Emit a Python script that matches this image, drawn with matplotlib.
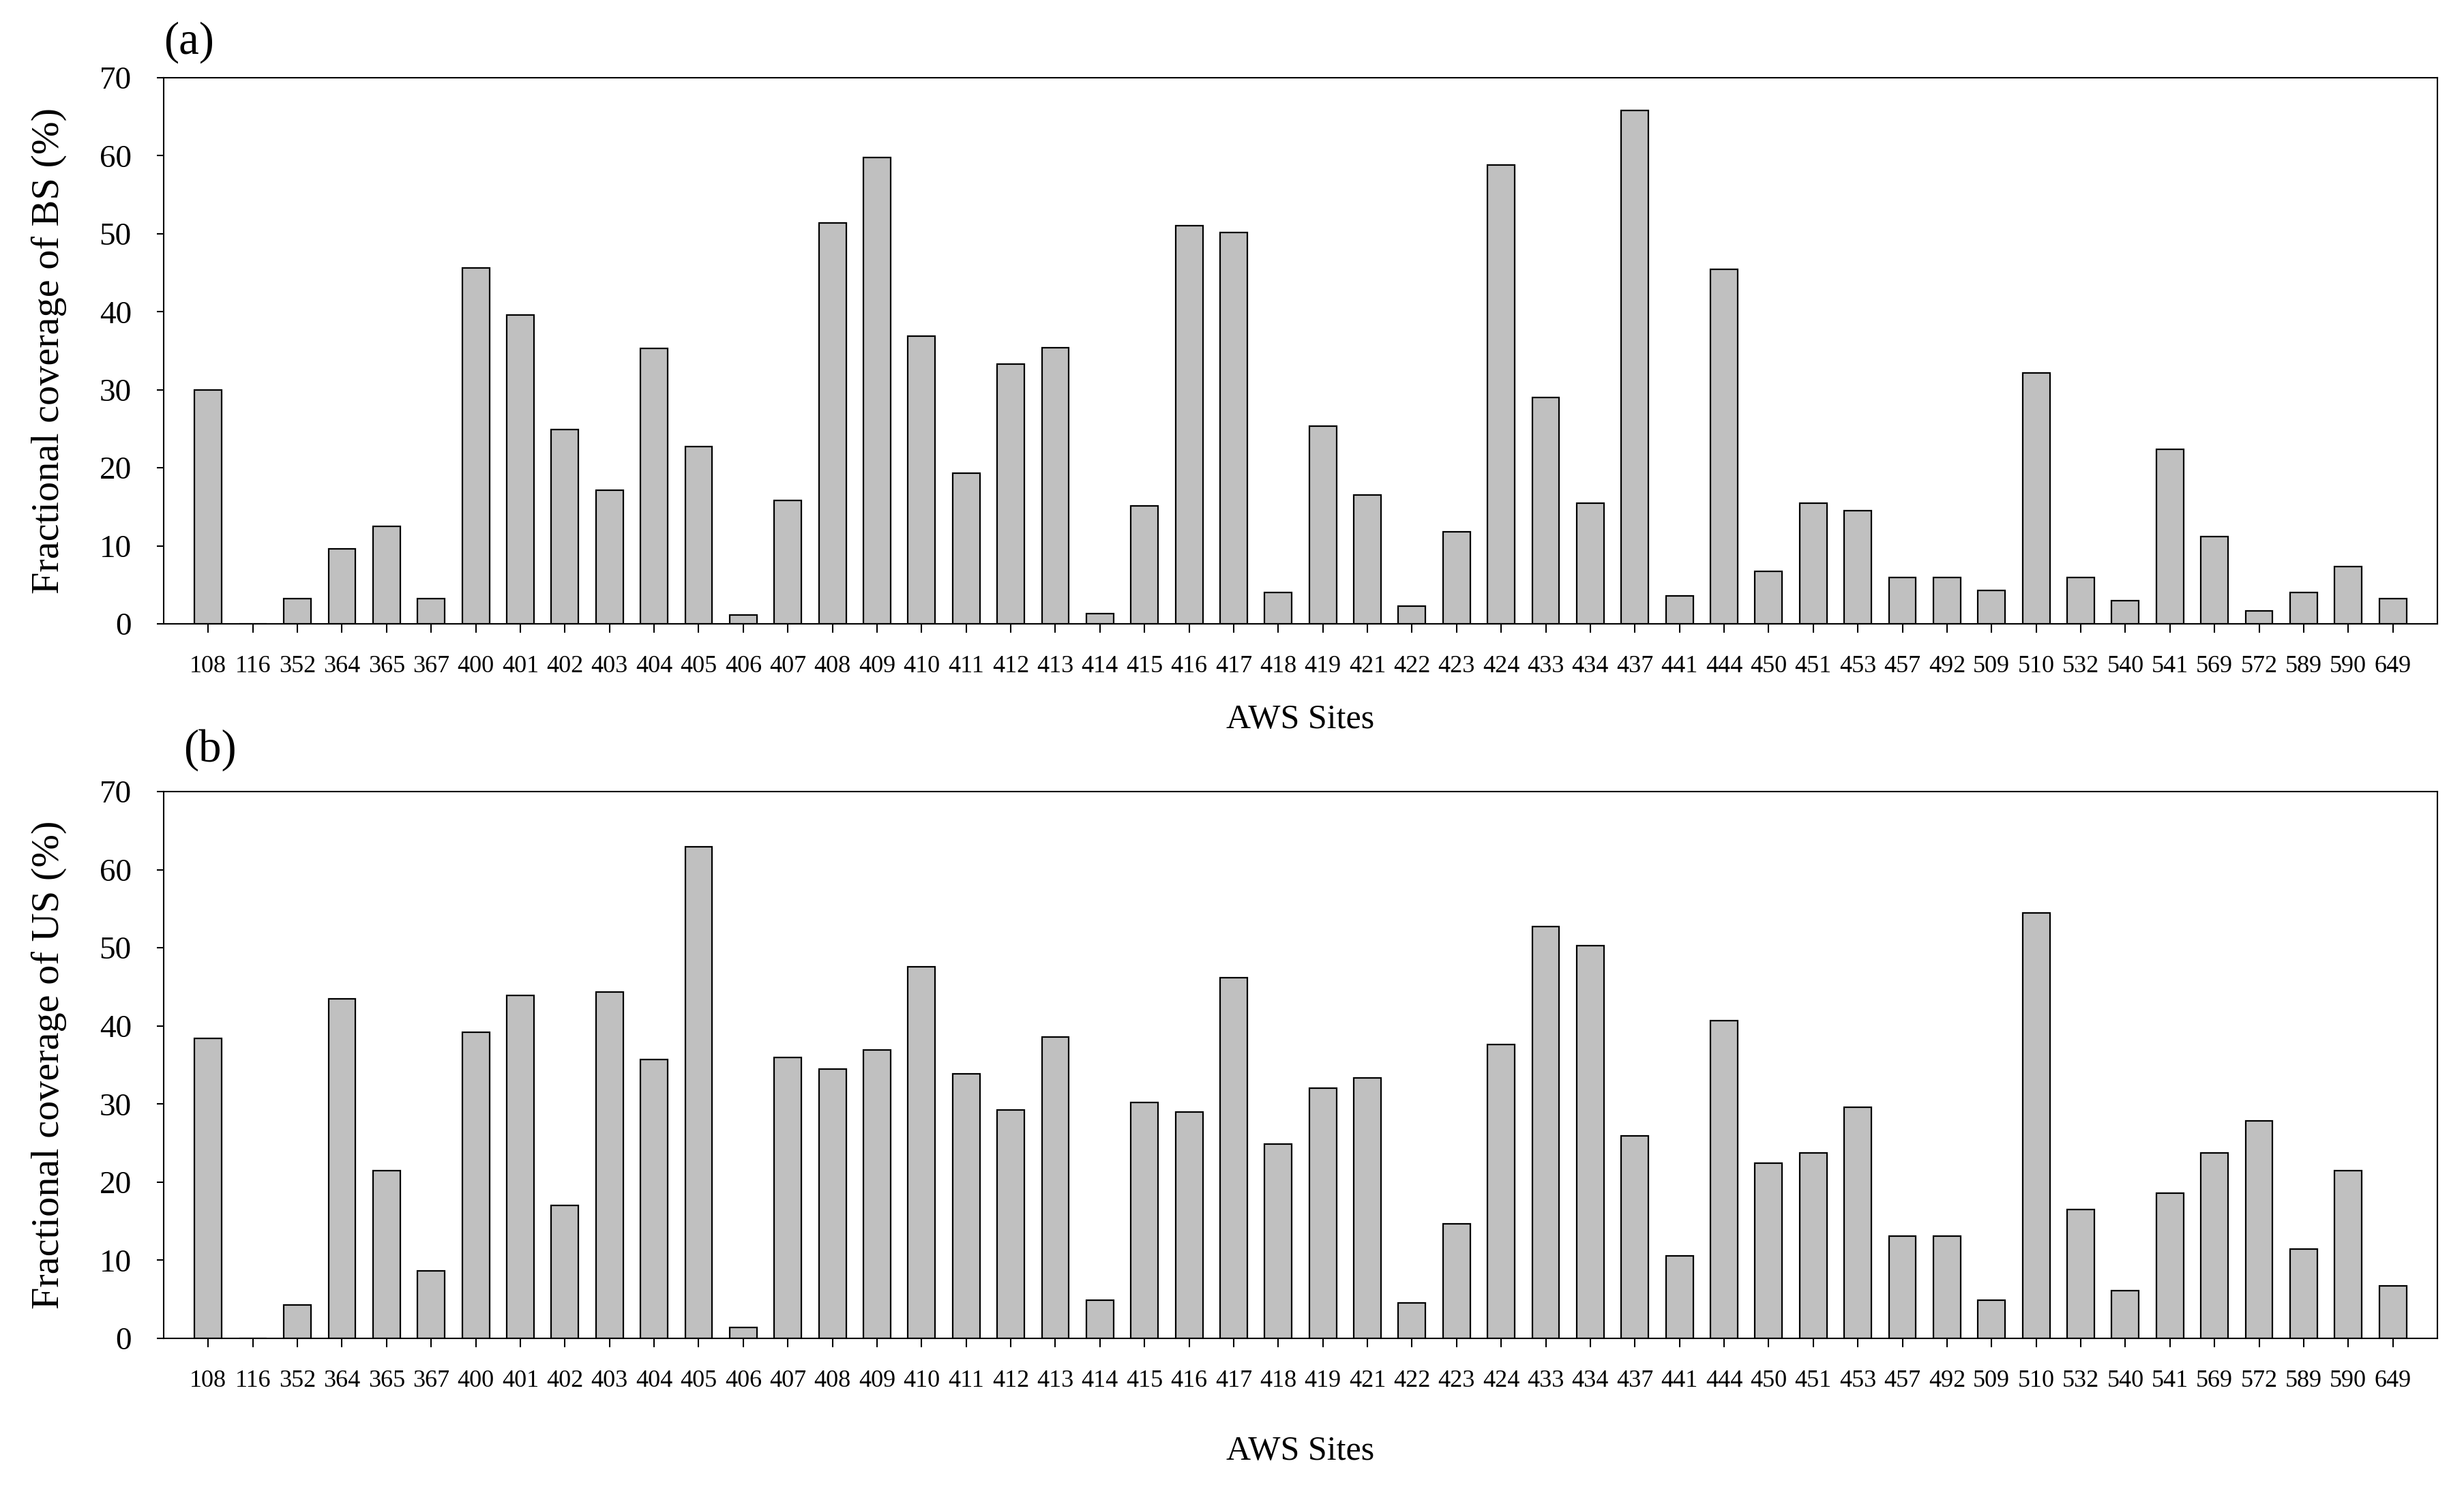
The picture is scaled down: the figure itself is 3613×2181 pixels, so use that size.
import matplotlib
matplotlib.use("Agg")
import matplotlib.pyplot as plt
import numpy as np

sites = ["108", "116", "352", "364", "365", "367", "400", "401", "402", "403",
         "404", "405", "406", "407", "408", "409", "410", "411", "412", "413",
         "414", "415", "416", "417", "418", "419", "421", "422", "423", "424",
         "433", "434", "437", "441", "444", "450", "451", "453", "457", "492",
         "509", "510", "532", "540", "541", "569", "572", "589", "590", "649"]

bs_cover = [30.0, 0.0, 3.2, 9.6, 12.5, 3.2, 45.6, 39.6, 24.9, 17.1,
            35.3, 22.7, 1.1, 15.8, 51.4, 59.8, 36.9, 19.3, 33.3, 35.4,
            1.3, 15.1, 51.0, 50.2, 4.0, 25.3, 16.5, 2.3, 11.8, 58.8,
            29.0, 15.5, 65.8, 3.6, 45.4, 6.7, 15.5, 14.5, 5.9, 5.9,
            4.3, 32.2, 5.9, 3.0, 22.4, 11.2, 1.7, 4.0, 7.3, 3.2]

us_cover = [38.4, 0.0, 4.3, 43.5, 21.5, 8.6, 39.2, 43.9, 17.0, 44.3,
            35.7, 62.9, 1.4, 36.0, 34.5, 36.9, 47.6, 33.9, 29.2, 38.6,
            4.9, 30.2, 29.0, 46.2, 24.9, 32.0, 33.3, 4.5, 14.7, 37.6,
            52.7, 50.3, 25.9, 10.6, 40.7, 22.4, 23.7, 29.6, 13.1, 13.1,
            4.9, 54.5, 16.5, 6.1, 18.6, 23.7, 27.8, 11.4, 21.5, 6.7]

yticks = [0, 10, 20, 30, 40, 50, 60, 70]

plt.rcParams['font.family'] = ['Liberation Serif', 'DejaVu Serif']

W, H = 3613, 2181
fig = plt.figure(figsize=(W / 100, H / 100), dpi=100)

left = 240 / W
width = (3574 - 240) / W

panels = [
    dict(vals=bs_cover, top=114, bot=915, tag="(a)", tagxy=(240, 62),
         ylabel="Fractional coverage of BS (%)", xlabelpad=28),
    dict(vals=us_cover, top=1161, bot=1963, tag="(b)", tagxy=(269, 1100),
         ylabel="Fractional coverage of US (%)", xlabelpad=46),
]

for p in panels:
    ax = fig.add_axes([left, 1 - p["bot"] / H, width, (p["bot"] - p["top"]) / H])
    x = np.arange(len(sites))
    ax.bar(x, p["vals"], width=0.61, color="#C0C0C0", edgecolor="black",
           linewidth=1.6, zorder=2)
    ax.set_xlim(-1, len(sites))
    ax.set_ylim(0, 70)
    ax.set_yticks(yticks)
    ax.set_yticklabels([str(v) for v in yticks], fontsize=34)
    ax.set_xticks(x)
    ax.set_xticklabels(sites, fontsize=26)
    ax.tick_params(axis="x", direction="out", length=9, width=1.5, pad=24)
    ax.tick_params(axis="y", direction="out", length=7, width=1.5, pad=27)
    for s in ax.spines.values():
        s.set_linewidth(1.5)
    ax.set_xlabel("AWS Sites", fontsize=36, labelpad=p["xlabelpad"])
    ax.set_ylabel(p["ylabel"], fontsize=42, labelpad=34)
    fig.text(p["tagxy"][0] / W, 1 - p["tagxy"][1] / H, p["tag"], fontsize=48,
             ha="left", va="center")

fig.savefig("out.png", dpi=100, facecolor="white")
